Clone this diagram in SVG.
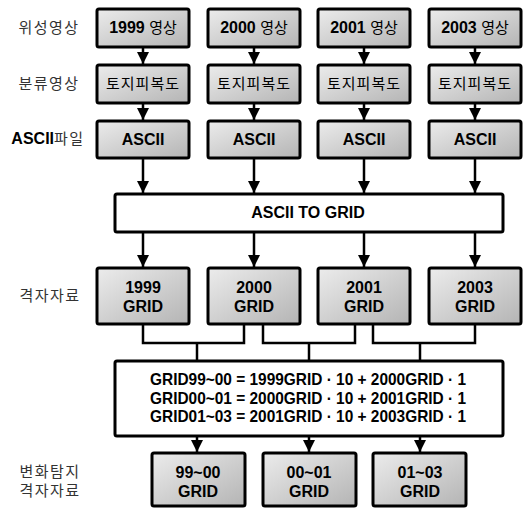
<svg xmlns="http://www.w3.org/2000/svg" width="525" height="508" viewBox="0 0 525 508">
<style>
text{font-family:"Liberation Sans","Noto Sans CJK KR",sans-serif;fill:#000;text-anchor:middle}
.b{font-weight:bold;font-size:16px}
.k{font-weight:normal;font-size:15px;font-family:"Noto Sans CJK KR","Liberation Sans",sans-serif}
.lab{font-size:15px;letter-spacing:1.5px;font-family:"Noto Sans CJK KR","Liberation Sans",sans-serif;fill:#333}
.f{font-weight:bold;font-size:16.5px;text-anchor:start}
.box{fill:url(#g);stroke:#000;stroke-width:3}
.wbox{fill:#fff;stroke:#000;stroke-width:3}
.c{fill:none;stroke:#000;stroke-width:2.5}
.a{marker-end:url(#arr)}
</style>
<defs>
<linearGradient id="g" x1="0" y1="0" x2="1" y2="1">
<stop offset="0" stop-color="#ececec"/>
<stop offset="1" stop-color="#b4b4b4"/>
</linearGradient>
<marker id="arr" viewBox="0 0 10 10" refX="10" refY="5" markerWidth="12" markerHeight="12" markerUnits="userSpaceOnUse" orient="auto">
<path d="M0,0 L10,5 L0,10 z" fill="#000"/>
</marker>
</defs>

<g id="labels">
<text class="lab" x="49" y="33">위성영상</text>
<text class="lab" x="49" y="89">분류영상</text>
<text class="lab" x="48" y="144" style="letter-spacing:0"><tspan style="font-family:'Liberation Sans',sans-serif;font-weight:bold;fill:#000;font-size:16px">ASCII</tspan><tspan style="letter-spacing:1.5px">파일</tspan></text>
<text class="lab" x="50" y="301">격자자료</text>
<text class="lab" x="50" y="477">변화탐지</text>
<text class="lab" x="50" y="496">격자자료</text>
</g>

<g id="connectors">
<line class="c a" x1="143" y1="47" x2="143" y2="64"/>
<line class="c a" x1="254" y1="47" x2="254" y2="64"/>
<line class="c a" x1="364" y1="47" x2="364" y2="64"/>
<line class="c a" x1="475" y1="47" x2="475" y2="64"/>
<line class="c a" x1="143" y1="103" x2="143" y2="120"/>
<line class="c a" x1="254" y1="103" x2="254" y2="120"/>
<line class="c a" x1="364" y1="103" x2="364" y2="120"/>
<line class="c a" x1="475" y1="103" x2="475" y2="120"/>
<line class="c a" x1="143" y1="158" x2="143" y2="193"/>
<line class="c a" x1="254" y1="158" x2="254" y2="193"/>
<line class="c a" x1="364" y1="158" x2="364" y2="193"/>
<line class="c a" x1="475" y1="158" x2="475" y2="193"/>
<line class="c a" x1="143" y1="232" x2="143" y2="267"/>
<line class="c a" x1="254" y1="232" x2="254" y2="267"/>
<line class="c a" x1="364" y1="232" x2="364" y2="267"/>
<line class="c a" x1="475" y1="232" x2="475" y2="267"/>
<path class="c" d="M143,324 V343 H244 V324"/>
<path class="c" d="M263,324 V343 H355 V324"/>
<path class="c" d="M373,324 V343 H475 V324"/>
<line class="c" x1="197" y1="343" x2="197" y2="361"/>
<line class="c" x1="309" y1="343" x2="309" y2="361"/>
<line class="c" x1="420" y1="343" x2="420" y2="361"/>
<line class="c a" x1="197" y1="436" x2="197" y2="452"/>
<line class="c a" x1="309" y1="436" x2="309" y2="452"/>
<line class="c a" x1="420" y1="436" x2="420" y2="452"/>
</g>

<g id="img1999"><rect class="box" x="97" y="9" width="92" height="38" rx="2"/><text class="b" x="143" y="33">1999 <tspan class="k">영상</tspan></text></g>
<g id="img2000"><rect class="box" x="208" y="9" width="92" height="38" rx="2"/><text class="b" x="254" y="33">2000 <tspan class="k">영상</tspan></text></g>
<g id="img2001"><rect class="box" x="318" y="9" width="92" height="38" rx="2"/><text class="b" x="364" y="33">2001 <tspan class="k">영상</tspan></text></g>
<g id="img2003"><rect class="box" x="429" y="9" width="92" height="38" rx="2"/><text class="b" x="475" y="33">2003 <tspan class="k">영상</tspan></text></g>

<g id="cls1999"><rect class="box" x="97" y="65" width="92" height="38" rx="2"/><text class="k" x="143" y="89" letter-spacing="1">토지피복도</text></g>
<g id="cls2000"><rect class="box" x="208" y="65" width="92" height="38" rx="2"/><text class="k" x="254" y="89" letter-spacing="1">토지피복도</text></g>
<g id="cls2001"><rect class="box" x="318" y="65" width="92" height="38" rx="2"/><text class="k" x="364" y="89" letter-spacing="1">토지피복도</text></g>
<g id="cls2003"><rect class="box" x="429" y="65" width="92" height="38" rx="2"/><text class="k" x="475" y="89" letter-spacing="1">토지피복도</text></g>

<g id="asc1999"><rect class="box" x="97" y="121" width="92" height="37" rx="2"/><text class="b" x="143" y="145" font-size="16.5">ASCII</text></g>
<g id="asc2000"><rect class="box" x="208" y="121" width="92" height="37" rx="2"/><text class="b" x="254" y="145" font-size="16.5">ASCII</text></g>
<g id="asc2001"><rect class="box" x="318" y="121" width="92" height="37" rx="2"/><text class="b" x="364" y="145" font-size="16.5">ASCII</text></g>
<g id="asc2003"><rect class="box" x="429" y="121" width="92" height="37" rx="2"/><text class="b" x="475" y="145" font-size="16.5">ASCII</text></g>

<g id="ascii2grid"><rect class="wbox" x="115" y="194" width="388" height="38" rx="2"/><text class="b" x="308" y="218" font-size="15.5">ASCII TO GRID</text></g>

<g id="grid1999"><rect class="box" x="97" y="268" width="92" height="56" rx="2"/><text class="b" x="143" y="293">1999</text><text class="b" x="143" y="312">GRID</text></g>
<g id="grid2000"><rect class="box" x="208" y="268" width="92" height="56" rx="2"/><text class="b" x="254" y="293">2000</text><text class="b" x="254" y="312">GRID</text></g>
<g id="grid2001"><rect class="box" x="318" y="268" width="92" height="56" rx="2"/><text class="b" x="364" y="293">2001</text><text class="b" x="364" y="312">GRID</text></g>
<g id="grid2003"><rect class="box" x="429" y="268" width="92" height="56" rx="2"/><text class="b" x="475" y="293">2003</text><text class="b" x="475" y="312">GRID</text></g>

<g id="formula"><rect class="wbox" x="115" y="361" width="388" height="75" rx="2"/>
<text class="f" x="150" y="385" textLength="316" lengthAdjust="spacingAndGlyphs">GRID99~00 = 1999GRID · 10 + 2000GRID · 1</text>
<text class="f" x="150" y="404" textLength="316" lengthAdjust="spacingAndGlyphs">GRID00~01 = 2000GRID · 10 + 2001GRID · 1</text>
<text class="f" x="150" y="422" textLength="316" lengthAdjust="spacingAndGlyphs">GRID01~03 = 2001GRID · 10 + 2003GRID · 1</text>
</g>

<g id="chg9900"><rect class="box" x="152" y="453" width="93" height="53" rx="2"/><text class="b" x="198" y="478">99~00</text><text class="b" x="198" y="497">GRID</text></g>
<g id="chg0001"><rect class="box" x="263" y="453" width="93" height="53" rx="2"/><text class="b" x="309" y="478">00~01</text><text class="b" x="309" y="497">GRID</text></g>
<g id="chg0103"><rect class="box" x="373" y="453" width="93" height="53" rx="2"/><text class="b" x="420" y="478">01~03</text><text class="b" x="420" y="497">GRID</text></g>
</svg>
